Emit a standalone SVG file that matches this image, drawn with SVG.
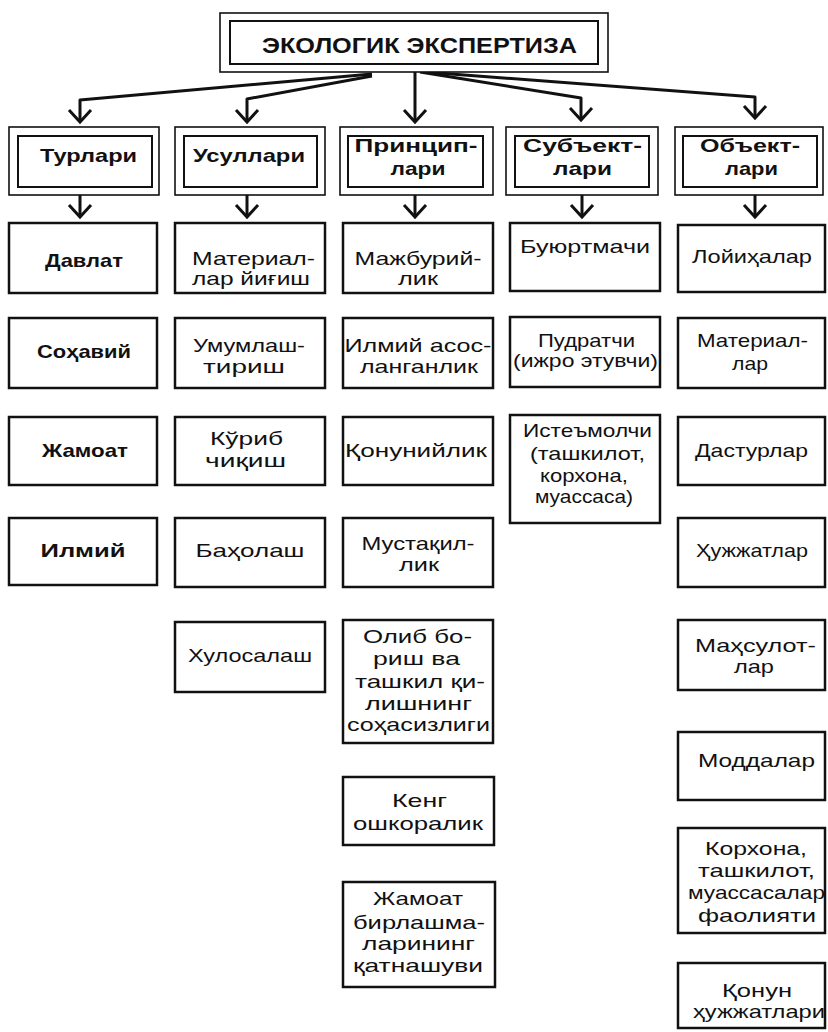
<svg xmlns="http://www.w3.org/2000/svg" width="828" height="1032" viewBox="0 0 828 1032">
<style>
.bg{fill:#fff}
.box{fill:#fff;stroke:#111;stroke-width:2.5}
.ob{fill:#fff;stroke:#111;stroke-width:1.6}
.ib{fill:none;stroke:#111;stroke-width:2}
.t{font-family:"Liberation Sans",Arial,sans-serif;font-size:19px;fill:#111;text-anchor:middle}
.b{font-weight:bold}
.h{font-family:"Liberation Sans",Arial,sans-serif;font-size:19px;font-weight:bold;fill:#111;text-anchor:middle}
.ttl{font-family:"Liberation Sans",Arial,sans-serif;font-size:22px;font-weight:bold;fill:#111;text-anchor:middle}
.c{fill:none;stroke:#111;stroke-width:3;stroke-linejoin:round}
</style>
<defs>
<marker id="v" markerUnits="userSpaceOnUse" markerWidth="30" markerHeight="30" refX="0" refY="0" viewBox="-15 -15 30 30" orient="auto" overflow="visible">
<path d="M -12 -11 L 0 0 L -12 11" fill="none" stroke="#111" stroke-width="3" stroke-linejoin="miter"/>
</marker>
</defs>
<rect class="bg" x="0" y="0" width="828" height="1032"/>

<g id="connectors">
<path class="c" d="M 372 74 L 80 100 L 80 122" marker-end="url(#v)"/>
<path class="c" d="M 372 76 L 247 99 L 247 122" marker-end="url(#v)"/>
<path class="c" d="M 415 72 L 415 122" marker-end="url(#v)"/>
<path class="c" d="M 420 72 L 581 98 L 581 120" marker-end="url(#v)"/>
<path class="c" d="M 425 72 L 755 97 L 755 118" marker-end="url(#v)"/>
<path class="c" d="M 80 195 L 80 217" marker-end="url(#v)"/>
<path class="c" d="M 247 195 L 247 217" marker-end="url(#v)"/>
<path class="c" d="M 415 195 L 415 217" marker-end="url(#v)"/>
<path class="c" d="M 582 195 L 582 217" marker-end="url(#v)"/>
<path class="c" d="M 755 195 L 755 217" marker-end="url(#v)"/>
</g>

<g id="root">
<rect class="ob" x="220" y="13" width="388" height="59"/>
<rect class="ib" x="230" y="21" width="368" height="43"/>
<text class="ttl" x="419.5" y="53" textLength="315" lengthAdjust="spacingAndGlyphs">ЭКОЛОГИК ЭКСПЕРТИЗА</text>
</g>

<g id="h-turlari">
<rect class="ob" x="9" y="127" width="150" height="68"/>
<rect class="ib" x="18" y="136" width="134" height="51"/>
<text class="h" x="88.5" y="162" textLength="97" lengthAdjust="spacingAndGlyphs">Турлари</text>
</g>
<g id="h-usullari">
<rect class="ob" x="175" y="127" width="150" height="68"/>
<rect class="ib" x="184" y="136" width="133" height="51"/>
<text class="h" x="249" y="162" textLength="112" lengthAdjust="spacingAndGlyphs">Усуллари</text>
</g>
<g id="h-prinsiplari">
<rect class="ob" x="340" y="127" width="153" height="68"/>
<rect class="ib" x="348" y="136" width="135" height="51"/>
<text class="h" x="416" y="152" textLength="123" lengthAdjust="spacingAndGlyphs">Принцип-</text>
<text class="h" x="418" y="175" textLength="55" lengthAdjust="spacingAndGlyphs">лари</text>
</g>
<g id="h-subyektlari">
<rect class="ob" x="506" y="127" width="152" height="68"/>
<rect class="ib" x="515" y="136" width="134" height="51"/>
<text class="h" x="582.5" y="152" textLength="119" lengthAdjust="spacingAndGlyphs">Субъект-</text>
<text class="h" x="582.5" y="175" textLength="59" lengthAdjust="spacingAndGlyphs">лари</text>
</g>
<g id="h-obyektlari">
<rect class="ob" x="675" y="127" width="148" height="68"/>
<rect class="ib" x="683" y="136" width="134" height="51"/>
<text class="h" x="750" y="152" textLength="100" lengthAdjust="spacingAndGlyphs">Объект-</text>
<text class="h" x="751.5" y="175" textLength="53" lengthAdjust="spacingAndGlyphs">лари</text>
</g>

<!-- Column 1 -->
<g id="c1-davlat"><rect class="box" x="9" y="223" width="148" height="70"/>
<text class="t b" x="84" y="267" textLength="78" lengthAdjust="spacingAndGlyphs">Давлат</text></g>
<g id="c1-sohaviy"><rect class="box" x="9" y="318" width="148" height="70"/>
<text class="t b" x="84" y="358" textLength="94" lengthAdjust="spacingAndGlyphs">Соҳавий</text></g>
<g id="c1-jamoat"><rect class="box" x="9" y="417" width="148" height="68"/>
<text class="t b" x="85" y="457" textLength="86" lengthAdjust="spacingAndGlyphs">Жамоат</text></g>
<g id="c1-ilmiy"><rect class="box" x="9" y="518" width="148" height="67"/>
<text class="t b" x="83" y="557" textLength="85" lengthAdjust="spacingAndGlyphs">Илмий</text></g>

<!-- Column 2 -->
<g id="c2-material"><rect class="box" x="175" y="223" width="150" height="70"/>
<text class="t" x="253.5" y="265" textLength="123" lengthAdjust="spacingAndGlyphs">Материал-</text>
<text class="t" x="251" y="285" textLength="118" lengthAdjust="spacingAndGlyphs">лар йиғиш</text></g>
<g id="c2-umumlash"><rect class="box" x="175" y="318" width="150" height="70"/>
<text class="t" x="249" y="352" textLength="112" lengthAdjust="spacingAndGlyphs">Умумлаш-</text>
<text class="t" x="244" y="373" textLength="82" lengthAdjust="spacingAndGlyphs">тириш</text></g>
<g id="c2-kurib"><rect class="box" x="175" y="417" width="150" height="68"/>
<text class="t" x="246.5" y="445" textLength="73" lengthAdjust="spacingAndGlyphs">Кўриб</text>
<text class="t" x="245.5" y="467" textLength="81" lengthAdjust="spacingAndGlyphs">чиқиш</text></g>
<g id="c2-baholash"><rect class="box" x="175" y="518" width="150" height="69"/>
<text class="t" x="250" y="557" textLength="109" lengthAdjust="spacingAndGlyphs">Баҳолаш</text></g>
<g id="c2-xulosalash"><rect class="box" x="175" y="622" width="150" height="70"/>
<text class="t" x="250" y="662" textLength="124" lengthAdjust="spacingAndGlyphs">Хулосалаш</text></g>

<!-- Column 3 -->
<g id="c3-majburiy"><rect class="box" x="343" y="223" width="150" height="70"/>
<text class="t" x="418" y="265" textLength="127" lengthAdjust="spacingAndGlyphs">Мажбурий-</text>
<text class="t" x="418" y="285" textLength="40" lengthAdjust="spacingAndGlyphs">лик</text></g>
<g id="c3-ilmiy"><rect class="box" x="343" y="318" width="150" height="70"/>
<text class="t" x="418" y="352" textLength="147" lengthAdjust="spacingAndGlyphs">Илмий асос-</text>
<text class="t" x="419" y="373" textLength="118" lengthAdjust="spacingAndGlyphs">ланганлик</text></g>
<g id="c3-qonuniy"><rect class="box" x="343" y="417" width="150" height="68"/>
<text class="t" x="416" y="457" textLength="142" lengthAdjust="spacingAndGlyphs">Қонунийлик</text></g>
<g id="c3-mustaqil"><rect class="box" x="343" y="518" width="150" height="69"/>
<text class="t" x="418" y="550" textLength="113" lengthAdjust="spacingAndGlyphs">Мустақил-</text>
<text class="t" x="419" y="571" textLength="40" lengthAdjust="spacingAndGlyphs">лик</text></g>
<g id="c3-olib"><rect class="box" x="343" y="620" width="150" height="123"/>
<text class="t" x="417.5" y="643" textLength="109" lengthAdjust="spacingAndGlyphs">Олиб бо-</text>
<text class="t" x="416.5" y="665" textLength="87" lengthAdjust="spacingAndGlyphs">риш ва</text>
<text class="t" x="420" y="688" textLength="130" lengthAdjust="spacingAndGlyphs">ташкил қи-</text>
<text class="t" x="418.5" y="710" textLength="107" lengthAdjust="spacingAndGlyphs">лишнинг</text>
<text class="t" x="418.5" y="731" textLength="143" lengthAdjust="spacingAndGlyphs">соҳасизлиги</text></g>
<g id="c3-keng"><rect class="box" x="343" y="777" width="151" height="68"/>
<text class="t" x="419.5" y="807" textLength="55" lengthAdjust="spacingAndGlyphs">Кенг</text>
<text class="t" x="418" y="830" textLength="130" lengthAdjust="spacingAndGlyphs">ошкоралик</text></g>
<g id="c3-jamoat"><rect class="box" x="343" y="882" width="152" height="105"/>
<text class="t" x="418" y="905" textLength="90" lengthAdjust="spacingAndGlyphs">Жамоат</text>
<text class="t" x="419" y="929" textLength="132" lengthAdjust="spacingAndGlyphs">бирлашма-</text>
<text class="t" x="418.5" y="950" textLength="113" lengthAdjust="spacingAndGlyphs">ларининг</text>
<text class="t" x="418" y="972" textLength="130" lengthAdjust="spacingAndGlyphs">қатнашуви</text></g>

<!-- Column 4 -->
<g id="c4-buyurtmachi"><rect class="box" x="510" y="223" width="150" height="68"/>
<text class="t" x="585" y="253" textLength="130" lengthAdjust="spacingAndGlyphs">Буюртмачи</text></g>
<g id="c4-pudratchi"><rect class="box" x="510" y="317" width="150" height="70"/>
<text class="t" x="586.5" y="347" textLength="97" lengthAdjust="spacingAndGlyphs">Пудратчи</text>
<text class="t" x="585.5" y="367" textLength="145" lengthAdjust="spacingAndGlyphs">(ижро этувчи)</text></g>
<g id="c4-isteymolchi"><rect class="box" x="510" y="415" width="150" height="108"/>
<text class="t" x="587.5" y="437" textLength="129" lengthAdjust="spacingAndGlyphs">Истеъмолчи</text>
<text class="t" x="587.5" y="460" textLength="115" lengthAdjust="spacingAndGlyphs">(ташкилот,</text>
<text class="t" x="584" y="482" textLength="88" lengthAdjust="spacingAndGlyphs">корхона,</text>
<text class="t" x="584" y="503" textLength="98" lengthAdjust="spacingAndGlyphs">муассаса)</text></g>

<!-- Column 5 -->
<g id="c5-loyiha"><rect class="box" x="678" y="225" width="147" height="67"/>
<text class="t" x="752" y="263" textLength="120" lengthAdjust="spacingAndGlyphs">Лойиҳалар</text></g>
<g id="c5-material"><rect class="box" x="678" y="318" width="147" height="70"/>
<text class="t" x="752.5" y="347" textLength="111" lengthAdjust="spacingAndGlyphs">Материал-</text>
<text class="t" x="750" y="370" textLength="36" lengthAdjust="spacingAndGlyphs">лар</text></g>
<g id="c5-dastur"><rect class="box" x="678" y="417" width="147" height="68"/>
<text class="t" x="751.5" y="457" textLength="113" lengthAdjust="spacingAndGlyphs">Дастурлар</text></g>
<g id="c5-hujjat"><rect class="box" x="678" y="518" width="147" height="69"/>
<text class="t" x="752" y="557" textLength="112" lengthAdjust="spacingAndGlyphs">Ҳужжатлар</text></g>
<g id="c5-mahsulot"><rect class="box" x="678" y="620" width="147" height="70"/>
<text class="t" x="755.5" y="652" textLength="121" lengthAdjust="spacingAndGlyphs">Маҳсулот-</text>
<text class="t" x="754" y="673" textLength="40" lengthAdjust="spacingAndGlyphs">лар</text></g>
<g id="c5-modda"><rect class="box" x="678" y="732" width="147" height="68"/>
<text class="t" x="756.5" y="767" textLength="117" lengthAdjust="spacingAndGlyphs">Моддалар</text></g>
<g id="c5-korxona"><rect class="box" x="678" y="828" width="147" height="105"/>
<text class="t" x="756" y="855" textLength="102" lengthAdjust="spacingAndGlyphs">Корхона,</text>
<text class="t" x="756.5" y="877" textLength="117" lengthAdjust="spacingAndGlyphs">ташкилот,</text>
<text class="t" x="756.5" y="899" textLength="137" lengthAdjust="spacingAndGlyphs">муассасалар</text>
<text class="t" x="757" y="922" textLength="118" lengthAdjust="spacingAndGlyphs">фаолияти</text></g>
<g id="c5-qonun"><rect class="box" x="678" y="963" width="147" height="65"/>
<text class="t" x="757" y="997" textLength="70" lengthAdjust="spacingAndGlyphs">Қонун</text>
<text class="t" x="759" y="1018" textLength="132" lengthAdjust="spacingAndGlyphs">ҳужжатлари</text></g>
</svg>
